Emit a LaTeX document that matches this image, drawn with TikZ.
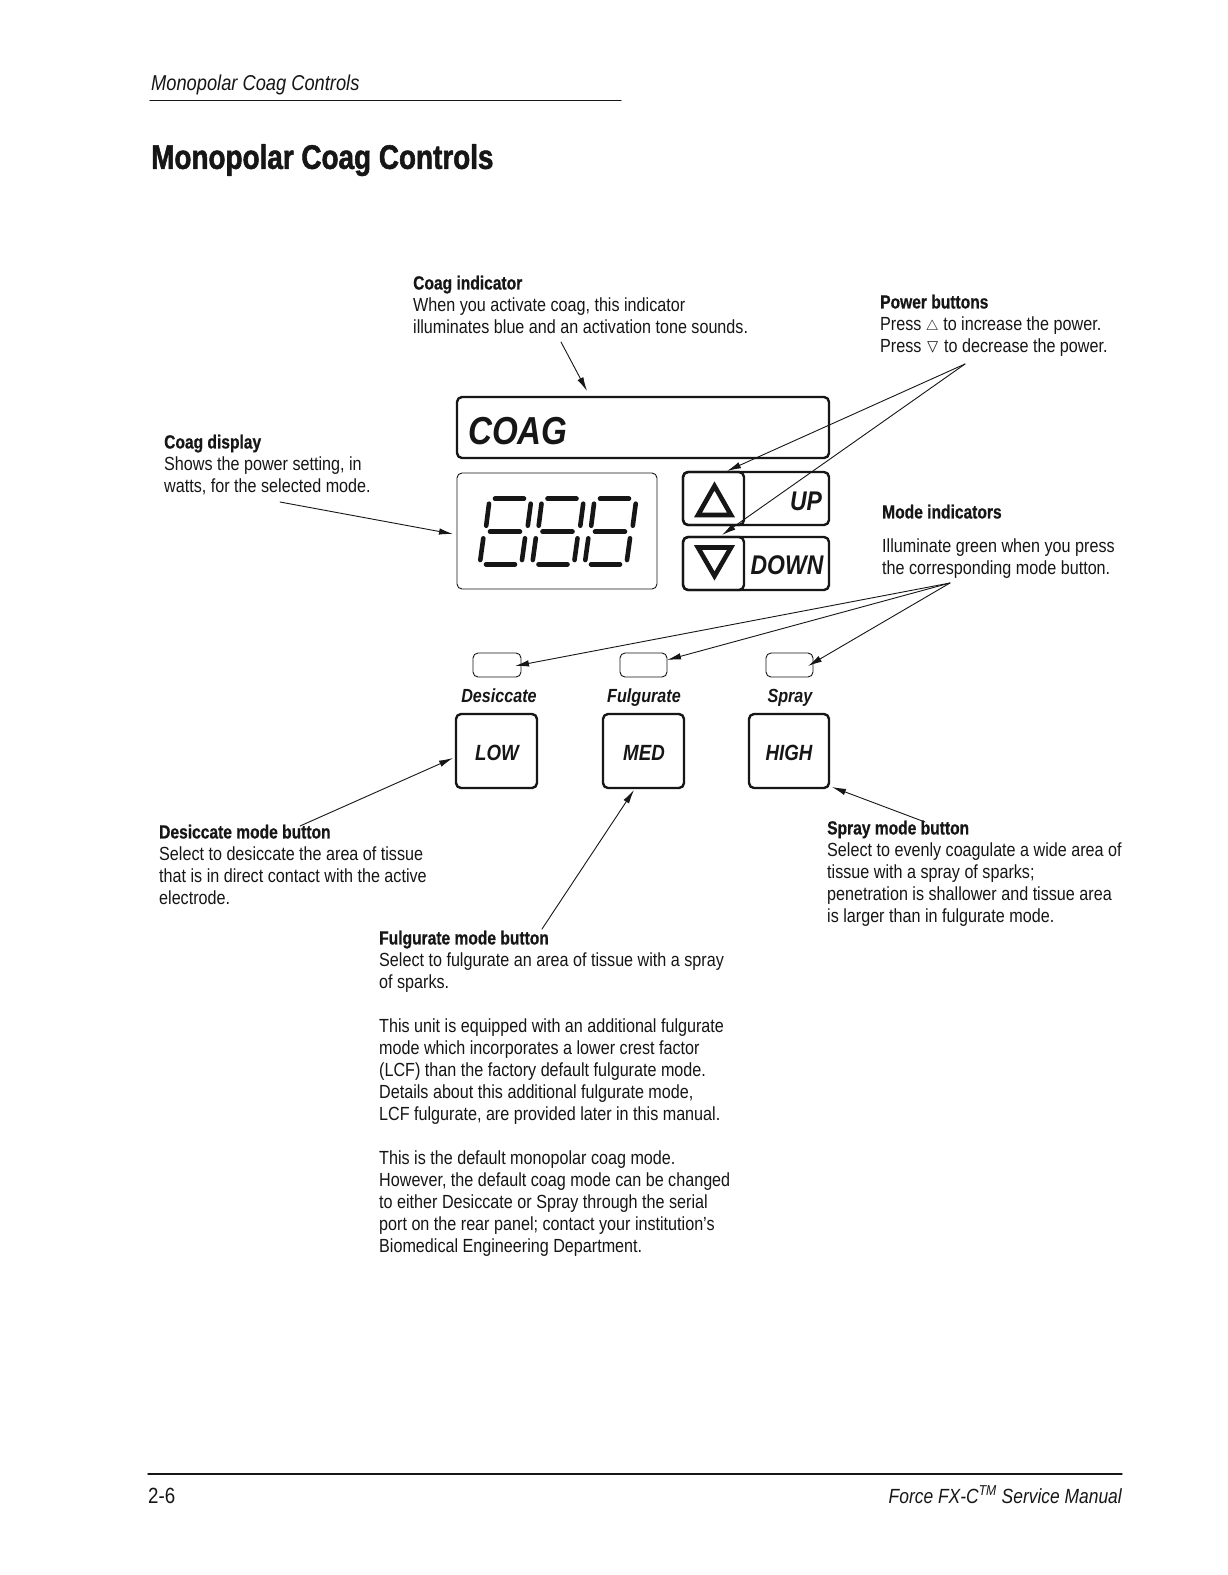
\documentclass[tikz,border=0pt]{standalone}
\usepackage{amssymb}
\usepackage{fontspec}
\usetikzlibrary{arrows.meta}
\setmainfont{Liberation Sans}[FakeStretch=0.85,BoldFeatures={FakeStretch=0.82,FakeBold=0.6}]
\newfontfamily\titlefont{Liberation Sans Bold}[FakeStretch=0.82,FakeBold=1.6]
\definecolor{inkblack}{RGB}{22,22,22}
\tikzset{
    bodytext/.style={anchor=north west,inner sep=0pt,align=left,text=inkblack,font=\fontsize{19}{22}\selectfont},
    paneltext/.style={inner sep=0pt,anchor=base,text=inkblack,font=\fontsize{22}{24}\selectfont\bfseries\itshape},
    callout/.style={-{Latex[length=14pt,width=6.5pt]},line width=0.9pt,draw=inkblack},
    keybox/.style={draw=inkblack,line width=2.4pt,rounded corners=5pt},
    lampbox/.style={draw=inkblack,line width=0.9pt,rounded corners=5pt},
    segment/.style={draw=inkblack,line width=4.6pt,line cap=round},
    arrowsign/.style={draw=inkblack,line width=4.6pt,line join=miter}
}
\begin{document}
\begin{tikzpicture}[x=1pt,y=-1pt,line cap=round,line join=round]
    \useasboundingbox (0,0) rectangle (1228,1575);
    \fill[white] (0,0) rectangle (1228,1575);

    % Page header
    \node[bodytext,font=\fontsize{21.5}{24}\selectfont\itshape] (runninghead) at (151,75) {Monopolar Coag Controls};
    \draw[inkblack,line width=1.4pt] (150,100.5) -- (621,100.5);
    \node[bodytext,font=\fontsize{34}{38}\titlefont] (pagetitle) at (151,144) {Monopolar Coag Controls};

    % Text blocks
    \node[bodytext] (coagindicator) at (413,275.5)
        {\textbf{Coag indicator}\\When you activate coag, this indicator\\illuminates blue and an activation tone sounds.};
    \node[bodytext] (powerbuttons) at (880,294.5)
        {\textbf{Power buttons}\\Press $\scriptstyle\triangle$ to increase the power.\\Press $\triangledown$ to decrease the power.};
    \node[bodytext] (coagdisplay) at (164,434.5)
        {\textbf{Coag display}\\Shows the power setting, in\\watts, for the selected mode.};
    \node[bodytext] (modehead) at (882,504.5) {\textbf{Mode indicators}};
    \node[bodytext] (modeindicators) at (882,538.5)
        {Illuminate green when you press\\the corresponding mode button.};
    \node[bodytext] (desiccatetext) at (159,824.5)
        {\textbf{Desiccate mode button}\\Select to desiccate the area of tissue\\that is in direct contact with the active\\electrode.};
    \node[bodytext] (spraytext) at (827,820.5)
        {\textbf{Spray mode button}\\Select to evenly coagulate a wide area of\\tissue with a spray of sparks;\\penetration is shallower and tissue area\\is larger than in fulgurate mode.};
    \node[bodytext] (fulguratetext) at (379,930.5)
        {\textbf{Fulgurate mode button}\\Select to fulgurate an area of tissue with a spray\\of sparks.\\[22pt]This unit is equipped with an additional fulgurate\\mode which incorporates a lower crest factor\\(LCF) than the factory default fulgurate mode.\\Details about this additional fulgurate mode,\\LCF fulgurate, are provided later in this manual.\\[22pt]This is the default monopolar coag mode.\\However, the default coag mode can be changed\\to either Desiccate or Spray through the serial\\port on the rear panel; contact your institution's\\Biomedical Engineering Department.};

    % Coag window
    \draw[keybox] (457,397) rectangle (829,458);
    \node[paneltext,font=\fontsize{39}{41}\selectfont\bfseries\itshape,anchor=base west] (coagword) at (468,444) {COAG};

    % Power display with three digits
    \draw[lampbox] (457,473) rectangle (657,589);
    \foreach \dx in {0,52.5,105} {
        \begin{scope}[xshift=\dx pt]
            \draw[segment] (495,498.7) -- (524,498.7);
            \draw[segment] (489,503.7) -- (486.2,525.7);
            \draw[segment] (530.7,503.7) -- (527.8,525.7);
            \draw[segment] (490,531.7) -- (520,531.7);
            \draw[segment] (483.3,538.3) -- (480.3,560);
            \draw[segment] (525,538.3) -- (522,560);
            \draw[segment] (486,564.3) -- (515,564.3);
        \end{scope}
    }

    % Up and down keys
    \draw[keybox] (683,472) rectangle (829,525);
    \draw[keybox] (683,472) rectangle (744,525);
    \draw[arrowsign] (714.5,486) -- (698,515) -- (731,515) -- cycle;
    \node[paneltext,font=\fontsize{27}{29}\selectfont\bfseries\itshape] (upword) at (806,510) {UP};
    \draw[keybox] (683,537) rectangle (829,590);
    \draw[keybox] (683,537) rectangle (744,590);
    \draw[arrowsign] (698,547.5) -- (731,547.5) -- (714.5,576) -- cycle;
    \node[paneltext,font=\fontsize{27}{29}\selectfont\bfseries\itshape] (downword) at (787,574.5) {DOWN};

    % Mode lamps and keys
    \draw[lampbox] (473,653) rectangle (521,677);
    \draw[lampbox] (620,653) rectangle (667,677);
    \draw[lampbox] (766,653) rectangle (813,677);
    \node[paneltext,font=\fontsize{19}{21}\selectfont\bfseries\itshape] (desiccateword) at (499,702) {Desiccate};
    \node[paneltext,font=\fontsize{19}{21}\selectfont\bfseries\itshape] (fulgurateword) at (644,702) {Fulgurate};
    \node[paneltext,font=\fontsize{19}{21}\selectfont\bfseries\itshape] (sprayword) at (790,702) {Spray};
    \draw[keybox] (456,714) rectangle (537,788);
    \draw[keybox] (603,714) rectangle (684,788);
    \draw[keybox] (749,714) rectangle (829,788);
    \node[paneltext] (lowword) at (497,760) {LOW};
    \node[paneltext] (medword) at (644,760) {MED};
    \node[paneltext] (highword) at (789,760) {HIGH};

    % Callout ends
    \coordinate (coagfoot) at (561,342);
    \coordinate (coagtip) at (587,391);
    \coordinate (displayfoot) at (280,502);
    \coordinate (displaytip) at (453,534);
    \coordinate (powerfoot) at (965,364);
    \coordinate (uptip) at (727,471);
    \coordinate (downtip) at (722,535);
    \coordinate (modefoot) at (950,583);
    \coordinate (desiccatetip) at (515,666);
    \coordinate (fulguratetip) at (667,660);
    \coordinate (spraytip) at (808,666);
    \coordinate (lowfoot) at (300,826);
    \coordinate (lowtip) at (453,758);
    \coordinate (medfoot) at (542,929);
    \coordinate (medtip) at (634,790);
    \coordinate (highfoot) at (925,822);
    \coordinate (hightip) at (832,787);

    % Callouts
    \draw[callout] (coagfoot) -- (coagtip);
    \draw[callout] (displayfoot) -- (displaytip);
    \draw[callout] (powerfoot) -- (uptip);
    \draw[callout] (powerfoot) -- (downtip);
    \draw[callout] (modefoot) -- (desiccatetip);
    \draw[callout] (modefoot) -- (fulguratetip);
    \draw[callout] (modefoot) -- (spraytip);
    \draw[callout] (lowfoot) -- (lowtip);
    \draw[callout] (medfoot) -- (medtip);
    \draw[callout] (highfoot) -- (hightip);

    % Page footer
    \draw[inkblack,line width=1.4pt] (148,1474) -- (1122,1474);
    \node[bodytext,font=\fontsize{22}{24}\selectfont] (pagenumber) at (148,1488) {2-6};
    \node[bodytext,anchor=north east,font=\fontsize{20.5}{24}\selectfont\itshape] (manualname) at (1122,1485.5) {Force FX-C\textsuperscript{TM} Service Manual};
\end{tikzpicture}
\end{document}
